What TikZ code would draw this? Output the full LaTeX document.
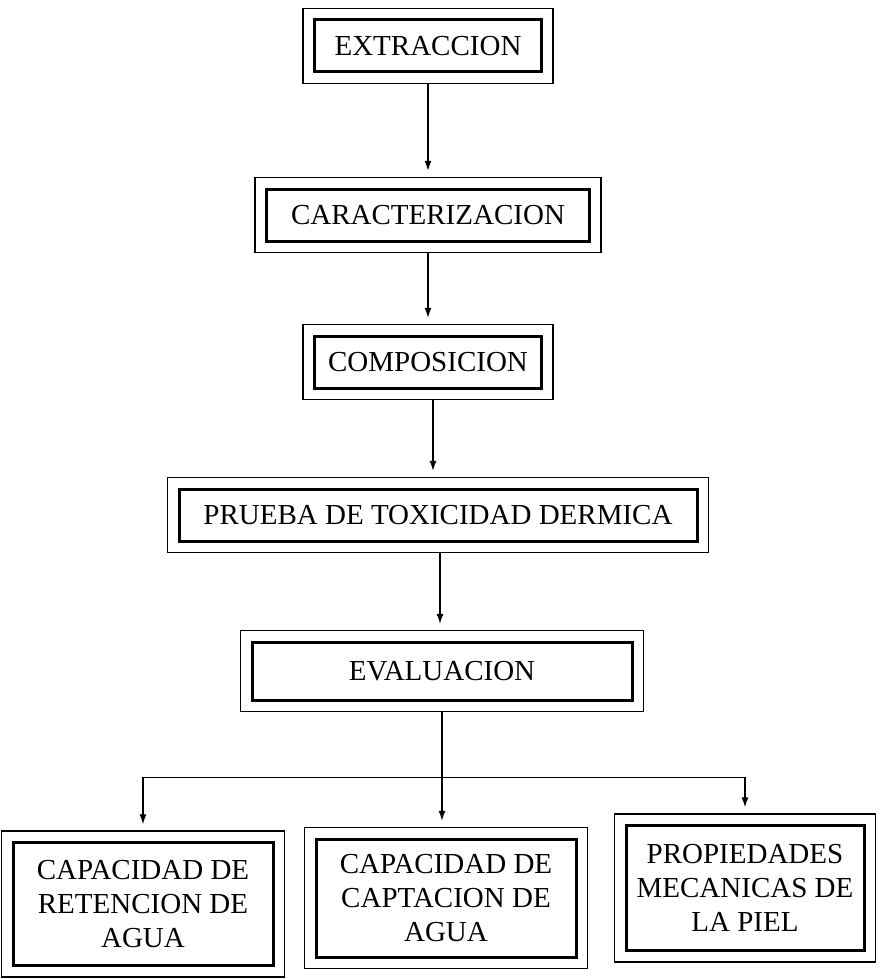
\documentclass[tikz,border=0pt]{standalone}
\usepackage{fontspec}
\setmainfont{Liberation Serif}
\usetikzlibrary{positioning, fit, arrows.meta}

\begin{document}
\begin{tikzpicture}[x=1pt, y=1pt, font=\fontsize{29}{34}\selectfont,
    stage/.style={draw, line width=3pt, minimum height=52pt,
                  align=center, inner sep=4pt},
    frame/.style={draw, line width=1.5pt, inner sep=10pt},
    flow/.style={line width=1.2pt, -{Latex[length=10pt,width=7pt]}, shorten >=6pt}]
    \useasboundingbox (0,0) rectangle (880,-979);
    % Add the stages
        \node[stage,
              minimum width=227pt] (ext) at (428,-46) {EXTRACCION};
        \node[stage,
              below=114pt of ext,
              minimum width=323pt] (car) {CARACTERIZACION};
        \node[stage,
              below=92pt of car,
              minimum width=227pt] (com) {COMPOSICION};
        \node[stage,
              below=98pt of com,
              xshift=10pt,
              minimum width=518pt] (pru) {PRUEBA DE TOXICIDAD DERMICA};
        \node[stage,
              below=98pt of pru,
              xshift=4pt,
              minimum width=380pt,
              minimum height=58pt] (eva) {EVALUACION};
    % Add the results
        \node[stage,
              below=136pt of eva,
              xshift=4pt,
              minimum width=260pt,
              minimum height=118pt] (cap) {CAPACIDAD DE\\CAPTACION DE\\AGUA};
        \node[stage,
              left=40pt of cap,
              yshift=-6pt,
              minimum width=260pt,
              minimum height=123pt] (ret) {CAPACIDAD DE\\RETENCION DE\\AGUA};
        \node[stage,
              right=47pt of cap,
              yshift=10pt,
              minimum width=238pt,
              minimum height=125pt] (pie) {PROPIEDADES\\MECANICAS DE\\LA PIEL};
    % Outer frames
        \foreach \n in {ext, car, com, pru, eva, ret, cap, pie}
            \node[frame, fit=(\n)] (\n f) {};
    % Connect them
        \coordinate[below=65pt of evaf] (split);
        \draw[flow] (extf.south) -- (extf.south |- carf.north);
        \draw[flow] (carf.south) -- (carf.south |- comf.north);
        \draw[flow] ([xshift=5pt]comf.south) -- ([xshift=5pt]comf.south |- pruf.north);
        \draw[flow] ([xshift=2pt]pruf.south) -- ([xshift=2pt]pruf.south |- evaf.north);
        \draw[flow] (evaf.south) -- (evaf.south |- capf.north);
        \draw[flow] (split) -| (retf);
        \draw[flow] (split) -| (pief);
\end{tikzpicture}
\end{document}
